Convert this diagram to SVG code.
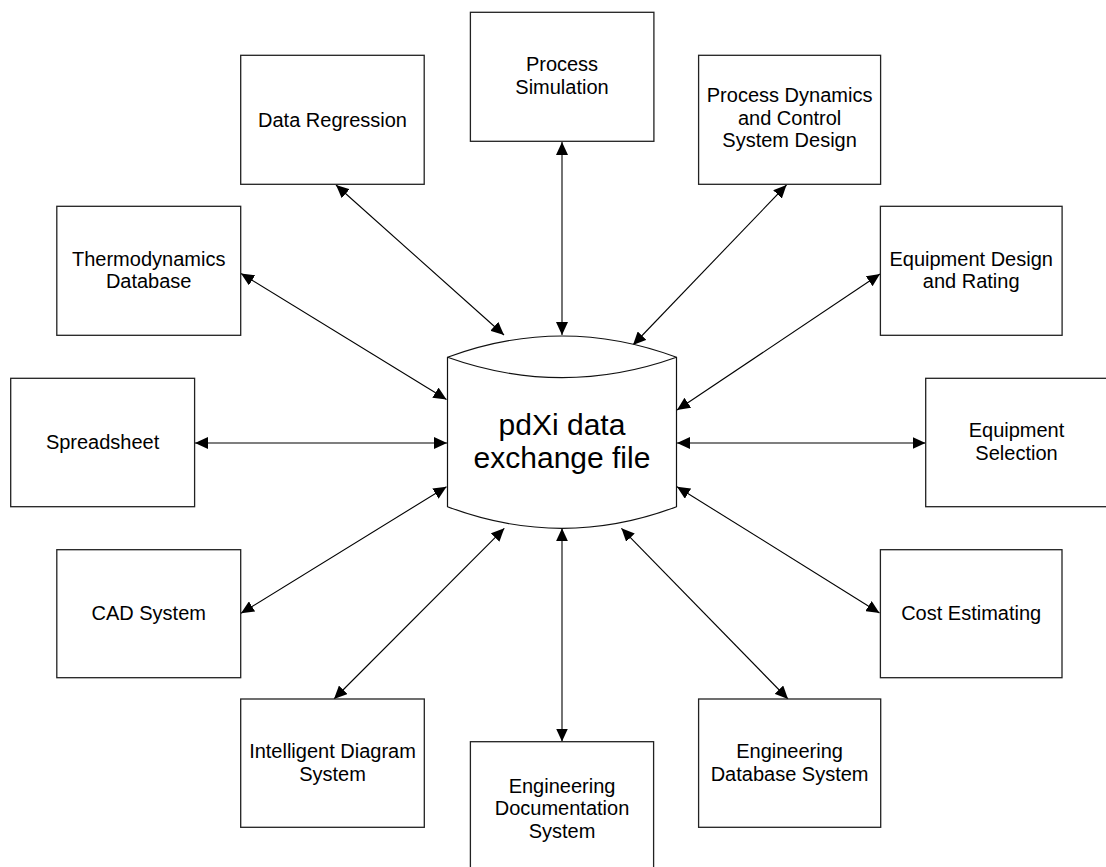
<svg xmlns="http://www.w3.org/2000/svg" width="1106" height="867" viewBox="0 0 1106 867">
<style>
.box{fill:#fff;stroke:#222;stroke-width:1.3}
.cyl{fill:#fff;stroke:#111;stroke-width:1.2}
.lbl{font-family:"Liberation Sans",Arial,sans-serif;font-size:20px;fill:#000;text-anchor:middle}
.big{font-family:"Liberation Sans",Arial,sans-serif;font-size:30px;fill:#000;text-anchor:middle}
.con{stroke:#000;stroke-width:1.1;fill:none;marker-start:url(#ah);marker-end:url(#ah)}
</style>
<defs>
<marker id="ah" markerUnits="userSpaceOnUse" markerWidth="14" markerHeight="12" refX="13" refY="6" orient="auto-start-reverse">
<path d="M0,0 L13,6 L0,12 Z" fill="#000"/>
</marker>
</defs>
<rect width="1106" height="867" fill="#fff"/>
<g id="connectors">
<line class="con" x1="562" y1="142" x2="562" y2="335"/>
<line class="con" x1="336" y1="185" x2="504" y2="335"/>
<line class="con" x1="786.5" y1="185" x2="633" y2="345"/>
<line class="con" x1="241" y1="273.5" x2="446.5" y2="399.5"/>
<line class="con" x1="880" y1="274" x2="677" y2="410"/>
<line class="con" x1="195" y1="443" x2="447" y2="443"/>
<line class="con" x1="677" y1="443" x2="925.5" y2="443"/>
<line class="con" x1="241" y1="613.3" x2="446.5" y2="486.7"/>
<line class="con" x1="677" y1="486.7" x2="879.5" y2="613"/>
<line class="con" x1="334" y1="699" x2="504.3" y2="528.3"/>
<line class="con" x1="621.4" y1="528.3" x2="788" y2="699"/>
<line class="con" x1="562" y1="528.3" x2="562" y2="741.5"/>
</g>
<g id="pdxi">
<path class="cyl" d="M447.5,357.3 Q562,314.7 676.5,357.3 L676.5,506.7 Q562,549.9 447.5,506.7 Z"/>
<path class="cyl" d="M447.5,357.3 Q562,398.1 676.5,357.3" fill="none"/>
<text class="big" x="562" y="435">pdXi data</text>
<text class="big" x="562" y="468">exchange file</text>
</g>
<g id="process-simulation">
<rect class="box" x="470.4" y="12.3" width="183.5" height="129"/>
<text class="lbl" x="562" y="70.7">Process</text>
<text class="lbl" x="562" y="94">Simulation</text>
</g>
<g id="data-regression">
<rect class="box" x="240.7" y="55.3" width="183.5" height="129"/>
<text class="lbl" x="332.5" y="126.7">Data Regression</text>
</g>
<g id="process-dynamics">
<rect class="box" x="698.6" y="55.3" width="182" height="129"/>
<text class="lbl" x="789.6" y="102">Process Dynamics</text>
<text class="lbl" x="789.6" y="124.5">and Control</text>
<text class="lbl" x="789.6" y="147">System Design</text>
</g>
<g id="thermodynamics-database">
<rect class="box" x="56.8" y="206.3" width="183.9" height="129"/>
<text class="lbl" x="148.7" y="265.5">Thermodynamics</text>
<text class="lbl" x="148.7" y="288">Database</text>
</g>
<g id="equipment-design">
<rect class="box" x="880.4" y="206.3" width="181.7" height="129"/>
<text class="lbl" x="971.2" y="265.5">Equipment Design</text>
<text class="lbl" x="971.2" y="288">and Rating</text>
</g>
<g id="spreadsheet">
<rect class="box" x="10.7" y="378.3" width="183.9" height="128.4"/>
<text class="lbl" x="102.6" y="449">Spreadsheet</text>
</g>
<g id="equipment-selection">
<rect class="box" x="925.7" y="378.3" width="183.5" height="128.4"/>
<text class="lbl" x="1016.5" y="437">Equipment</text>
<text class="lbl" x="1016.5" y="459.5">Selection</text>
</g>
<g id="cad-system">
<rect class="box" x="56.8" y="549.7" width="183.9" height="128"/>
<text class="lbl" x="148.7" y="620">CAD System</text>
</g>
<g id="cost-estimating">
<rect class="box" x="880.4" y="549.7" width="181.6" height="128"/>
<text class="lbl" x="971.2" y="620">Cost Estimating</text>
</g>
<g id="intelligent-diagram">
<rect class="box" x="240.7" y="699" width="183.6" height="128.3"/>
<text class="lbl" x="332.5" y="758">Intelligent Diagram</text>
<text class="lbl" x="332.5" y="780.5">System</text>
</g>
<g id="engineering-database">
<rect class="box" x="698.6" y="699" width="182.1" height="128.3"/>
<text class="lbl" x="789.6" y="758">Engineering</text>
<text class="lbl" x="789.6" y="780.5">Database System</text>
</g>
<g id="engineering-documentation">
<rect class="box" x="470.4" y="741.7" width="183.2" height="140"/>
<text class="lbl" x="562" y="792.5">Engineering</text>
<text class="lbl" x="562" y="815">Documentation</text>
<text class="lbl" x="562" y="837.5">System</text>
</g>
</svg>
